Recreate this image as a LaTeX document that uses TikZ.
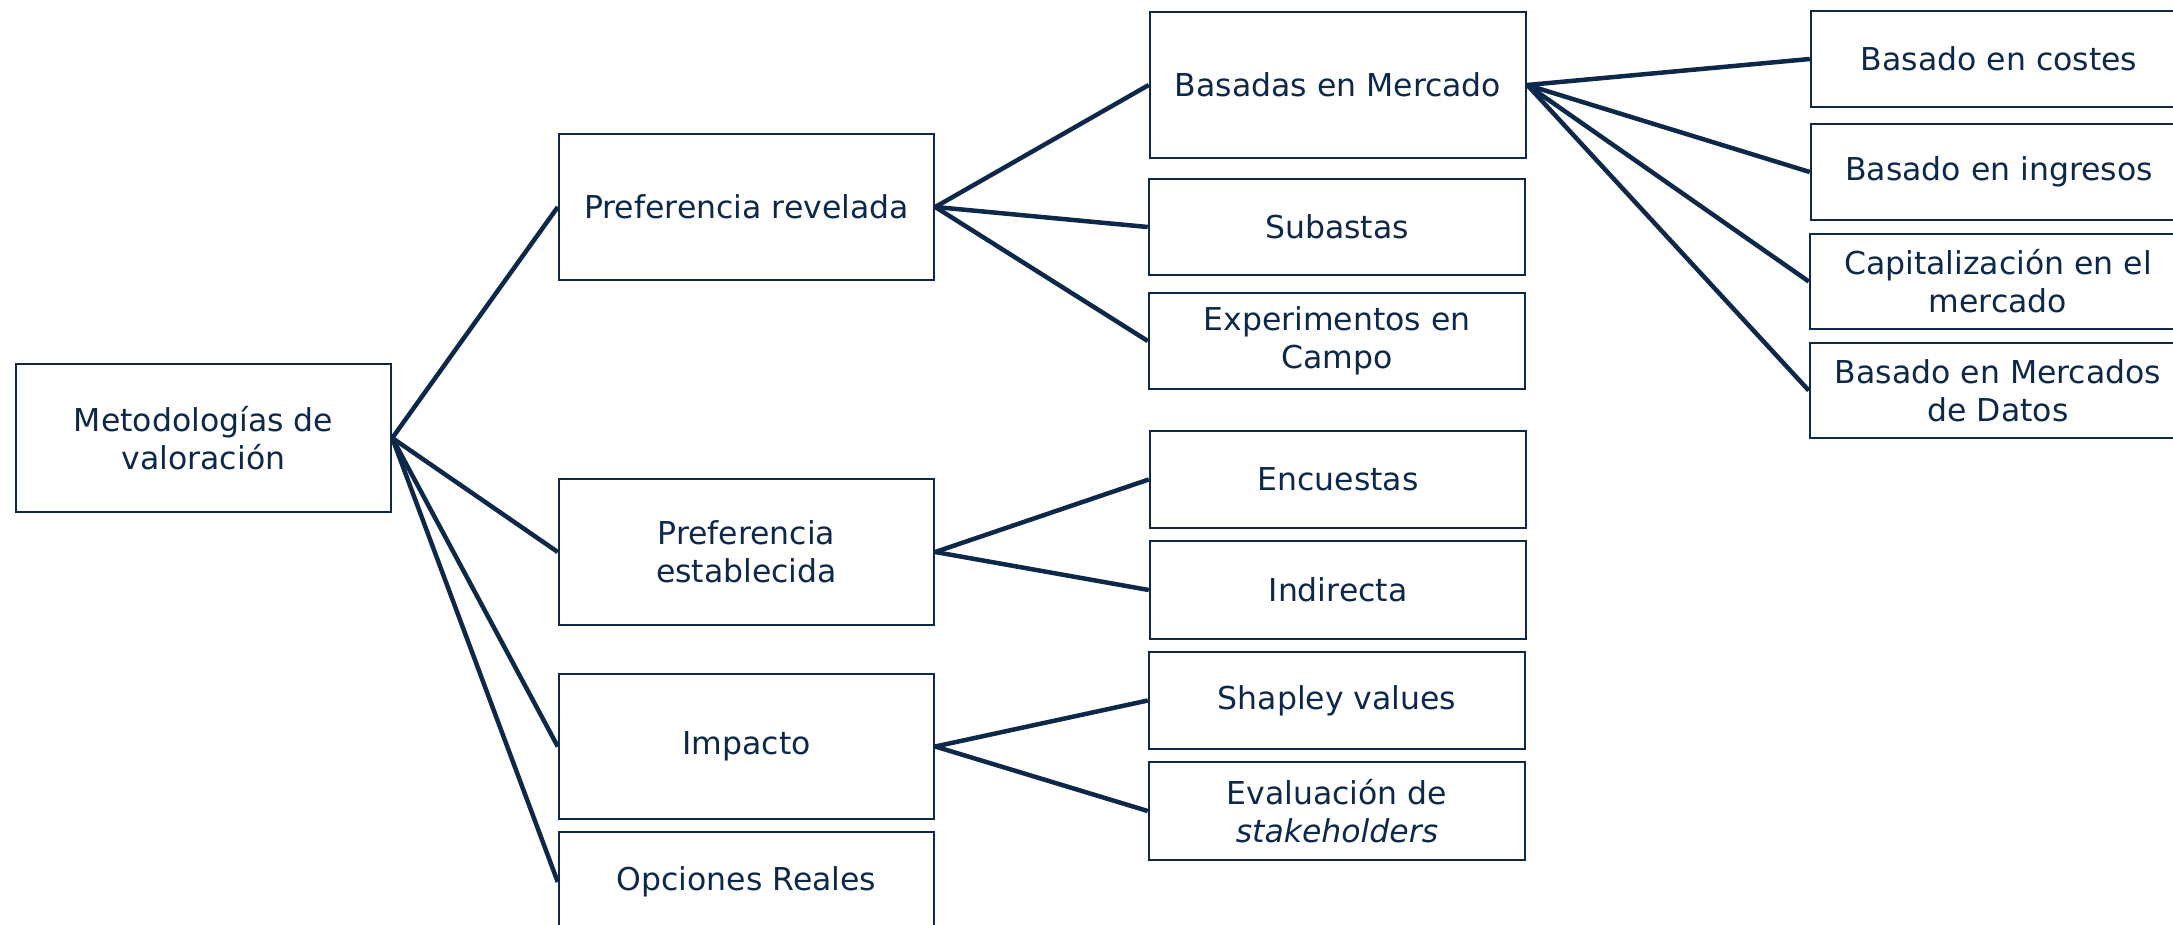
\documentclass[tikz,border=0pt]{standalone}
\usepackage{fontspec}
\setmainfont{DejaVu Sans}
\definecolor{navy}{RGB}{14,40,74}
\tikzset{
  box/.style={draw=navy, line width=2.5pt, rectangle, inner sep=0pt, align=center,
    text=navy, font=\fontsize{31.5}{38}\selectfont},
  wideA/.style={minimum width=375pt},
  wideB/.style={minimum width=376pt},
  conn/.style={draw=navy, line width=4.5pt}
}
\begin{document}
\begin{tikzpicture}[x=1pt, y=-1pt]
\useasboundingbox (0,0) rectangle (2173,924);
\clip (0,0) rectangle (2173,924);
% column 1
\node[box, wideA, minimum height=148pt] (root) at (203.5,438) {Metodologías de\\valoración};
% column 2
\node[box, wideA, minimum height=146pt] (prev) at (746.5,207) {Preferencia revelada};
\node[box, wideA, minimum height=146pt] (pest) at (746.5,552) {Preferencia\\establecida};
\node[box, wideA, minimum height=145pt] (imp) at (746.5,746.5) {Impacto};
\node[box, wideA, minimum height=100pt] (opc) at (746.5,882) {Opciones Reales};
% column 3
\node[box, wideB, minimum height=146pt] (bas) at (1338,85) {Basadas en Mercado};
\node[box, wideB, minimum height=96pt] (sub) at (1337,227) {Subastas};
\node[box, wideB, minimum height=96pt] (exp) at (1337,341) {Experimentos en\\Campo};
\node[box, wideB, minimum height=97pt] (enc) at (1338,479.5) {Encuestas};
\node[box, wideB, minimum height=98pt] (ind) at (1338,590) {Indirecta};
\node[box, wideB, minimum height=97pt] (sha) at (1337,700.5) {Shapley values};
\node[box, wideB, minimum height=98pt] (eva) at (1337,811) {Evaluación de\\\textit{stakeholders}};
% column 4
\node[box, wideB, minimum height=96pt] (cos) at (1999,59) {Basado en costes};
\node[box, wideB, minimum height=96pt] (ing) at (1999,172) {Basado en ingresos};
\node[box, wideB, minimum height=95pt] (cap) at (1998,281.5) {Capitalización en el\\mercado};
\node[box, wideB, minimum height=95pt] (dat) at (1998,390.5) {Basado en Mercados\\de Datos};
% connectors
\foreach \t in {prev,pest,imp,opc} \draw[conn] (root.east) -- (\t.west);
\foreach \t in {bas,sub,exp} \draw[conn] (prev.east) -- (\t.west);
\foreach \t in {enc,ind} \draw[conn] (pest.east) -- (\t.west);
\foreach \t in {sha,eva} \draw[conn] (imp.east) -- (\t.west);
\foreach \t in {cos,ing,cap,dat} \draw[conn] (bas.east) -- (\t.west);
\end{tikzpicture}
\end{document}
